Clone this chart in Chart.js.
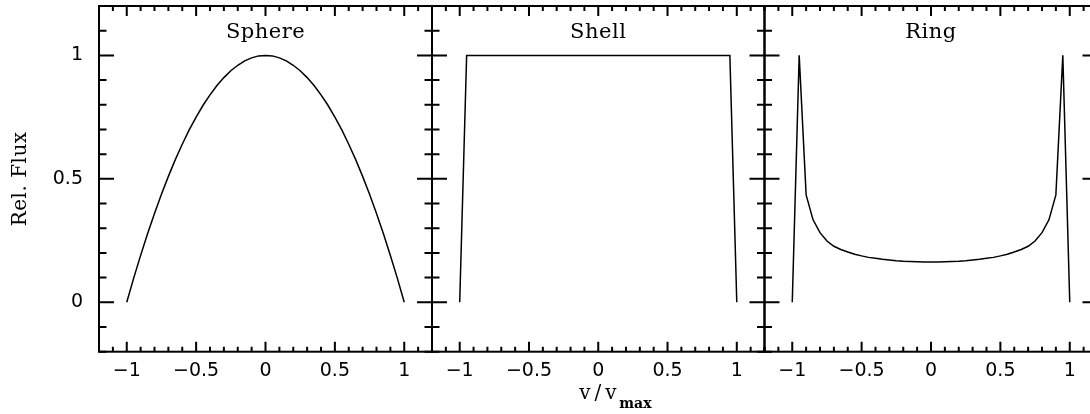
<!DOCTYPE html>
<html>
<head>
<meta charset="utf-8">
<script src="https://cdn.jsdelivr.net/npm/chart.js@4/dist/chart.umd.min.js"></script>
<style>
  html, body { margin: 0; padding: 0; background: #fff; overflow: hidden; width: 1090px; height: 414px; }
  canvas { position: absolute; left: 0; top: 0; }
</style>
</head>
<body>
<canvas id="c0" width="1110" height="414"></canvas>
<canvas id="c1" width="1110" height="414"></canvas>
<canvas id="c2" width="1110" height="414"></canvas>
<script>
// ---- data ----
const panelTitles = ["Sphere", "Shell", "Ring"];
const xValues = [-1, -0.95, -0.9, -0.85, -0.8, -0.75, -0.7, -0.65, -0.6, -0.55, -0.5,
  -0.45, -0.4, -0.35, -0.3, -0.25, -0.2, -0.15, -0.1, -0.05, 0,
  0.05, 0.1, 0.15, 0.2, 0.25, 0.3, 0.35, 0.4, 0.45, 0.5,
  0.55, 0.6, 0.65, 0.7, 0.75, 0.8, 0.85, 0.9, 0.95, 1];
const sphereFlux = [0, 0.098, 0.19, 0.278, 0.36, 0.438, 0.51, 0.578, 0.64, 0.698, 0.75,
  0.798, 0.84, 0.878, 0.91, 0.938, 0.96, 0.978, 0.99, 0.998, 1,
  0.998, 0.99, 0.978, 0.96, 0.938, 0.91, 0.878, 0.84, 0.798, 0.75,
  0.698, 0.64, 0.578, 0.51, 0.438, 0.36, 0.278, 0.19, 0.098, 0];
const shellFlux = [0, 1, 1, 1, 1, 1, 1, 1, 1, 1, 1,
  1, 1, 1, 1, 1, 1, 1, 1, 1, 1,
  1, 1, 1, 1, 1, 1, 1, 1, 1, 1,
  1, 1, 1, 1, 1, 1, 1, 1, 1, 0];
const ringFlux = [0, 1, 0.435, 0.334, 0.282, 0.248, 0.227, 0.214, 0.204, 0.195, 0.188,
  0.182, 0.178, 0.174, 0.171, 0.168, 0.166, 0.165, 0.164, 0.163, 0.163,
  0.163, 0.164, 0.165, 0.166, 0.168, 0.171, 0.174, 0.178, 0.182, 0.188,
  0.195, 0.204, 0.214, 0.227, 0.248, 0.282, 0.334, 0.435, 1, 0];
const xTickValues = [-1, -0.5, 0, 0.5, 1];
const yTickValues = [0, 0.5, 1];
const yAxisLabel = "Rel. Flux";
const xAxisLabel = "v/v";
const xAxisLabelSub = "max";

// ---- layout ----
const W = 1110, H = 414;
const panelEdges = [99, 432, 764.5, 1097.5];
const plotTop = 6, plotBottom = 351.7;

const fmt = v => String(v).replace('-', '\u2212');

const deco = {
  id: 'deco',
  afterDraw(chart, args, o) {
    const { ctx, chartArea: a, scales: { x, y } } = chart;
    ctx.save();
    ctx.strokeStyle = '#000';
    ctx.lineWidth = 2;
    ctx.strokeRect(a.left, a.top, a.right - a.left, a.bottom - a.top);
    ctx.beginPath();
    for (let i = -12; i <= 12; i++) {
      const px = x.getPixelForValue(i / 10);
      const L = (i % 5 === 0) ? 10 : 5;
      ctx.moveTo(px, a.bottom); ctx.lineTo(px, a.bottom - L);
      ctx.moveTo(px, a.top); ctx.lineTo(px, a.top + L);
    }
    for (let i = -2; i <= 12; i++) {
      const py = y.getPixelForValue(i / 10);
      const L = (i % 5 === 0) ? 15 : 7.5;
      ctx.moveTo(a.left, py); ctx.lineTo(a.left + L, py);
      ctx.moveTo(a.right, py); ctx.lineTo(a.right - L, py);
    }
    ctx.stroke();

    ctx.fillStyle = '#000';
    ctx.font = '21px "DejaVu Serif"';
    ctx.letterSpacing = '0.5px';
    ctx.textAlign = 'center';
    ctx.textBaseline = 'alphabetic';
    const cx = (a.left + a.right) / 2;
    ctx.fillText(o.title, cx, a.top + 32.3);

    if (o.yLabel) {
      ctx.save();
      ctx.translate(21, (a.top + a.bottom) / 2);
      ctx.rotate(-Math.PI / 2);
      ctx.textBaseline = 'middle';
      ctx.font = '20px "DejaVu Serif"';
      ctx.fillText(yAxisLabel, 0, 0);
      ctx.restore();
    }
    if (o.xLabel) {
      ctx.textAlign = 'left';
      ctx.letterSpacing = '4px';
      ctx.font = '20px "DejaVu Serif"';
      ctx.fillText(xAxisLabel, cx - 19, 399.3);
      ctx.letterSpacing = '0px';
      ctx.font = 'bold 14px "DejaVu Serif"';
      ctx.fillText(xAxisLabelSub, cx + 21, 407.5);
    }
    ctx.restore();
  }
};

const series = [sphereFlux, shellFlux, ringFlux];

series.forEach((vals, k) => {
  const left = panelEdges[k], right = panelEdges[k + 1];
  new Chart(document.getElementById('c' + k), {
    type: 'line',
    data: {
      datasets: [{
        data: xValues.map((xv, i) => ({ x: xv, y: vals[i] })),
        borderColor: '#000',
        borderWidth: 1.5,
        pointRadius: 0,
        tension: 0,
        fill: false
      }]
    },
    options: {
      responsive: false,
      animation: false,
      devicePixelRatio: 1,
      layout: { padding: { left: 0, right: W - right, top: plotTop, bottom: 0 } },
      plugins: {
        legend: { display: false },
        tooltip: { enabled: false },
        deco: { title: panelTitles[k], yLabel: k === 0, xLabel: k === 1 }
      },
      scales: {
        x: {
          type: 'linear', min: -1.2, max: 1.2,
          grid: { display: false, drawTicks: false },
          border: { display: false },
          afterBuildTicks: s => { s.ticks = xTickValues.map(v => ({ value: v })); },
          afterFit: s => { s.height = H - plotBottom; s.paddingLeft = 0; s.paddingRight = 0; },
          ticks: {
            font: { family: 'DejaVu Sans', size: 19 }, color: '#000',
            padding: 8, maxRotation: 0, autoSkip: false,
            callback: v => fmt(v)
          }
        },
        y: {
          type: 'linear', min: -0.2, max: 1.2,
          grid: { display: false, drawTicks: false },
          border: { display: false },
          afterBuildTicks: s => { s.ticks = yTickValues.map(v => ({ value: v })); },
          afterFit: s => { s.width = left; s.paddingTop = 0; s.paddingBottom = 0; },
          ticks: {
            display: k === 0,
            font: { family: 'DejaVu Sans', size: 19 }, color: '#000',
            padding: 16, autoSkip: false,
            callback: v => fmt(v)
          }
        }
      }
    },
    plugins: [deco]
  });
});
</script>
</body>
</html>
